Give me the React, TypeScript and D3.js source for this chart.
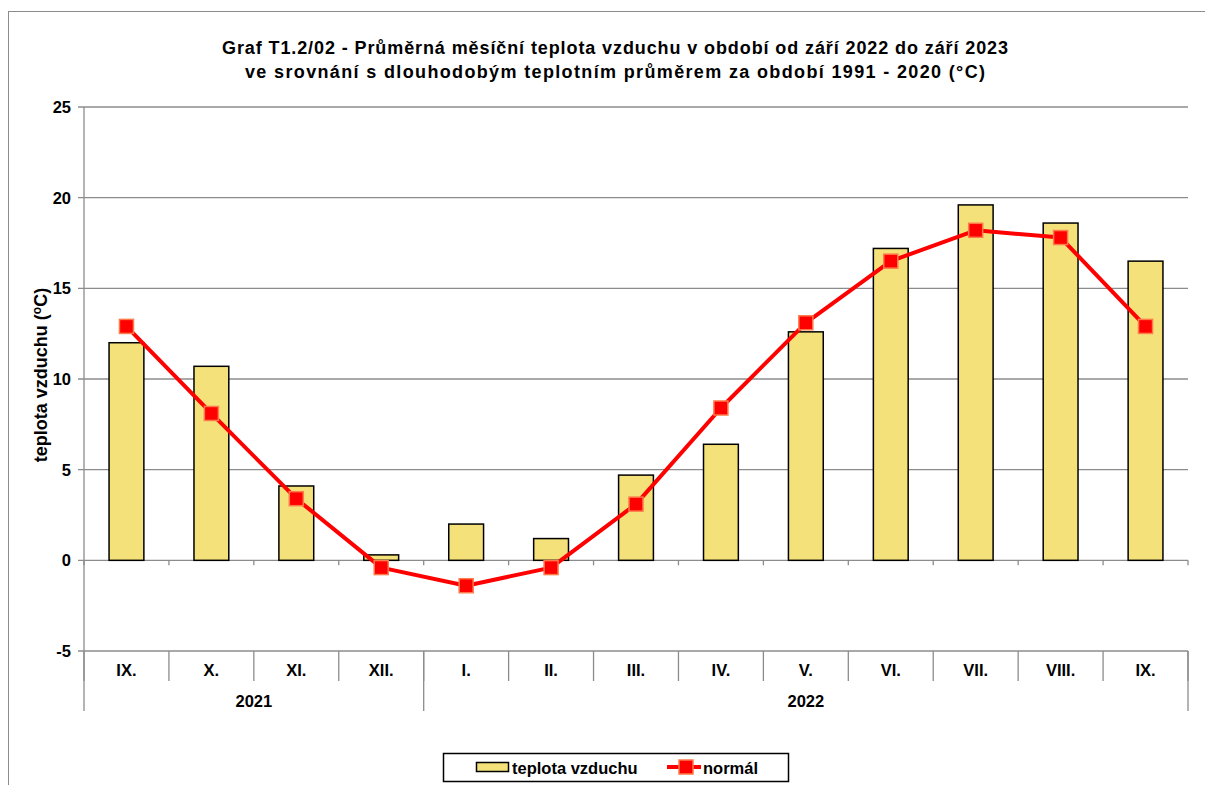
import React from "react";
import * as d3 from "d3";

const months = ["IX.", "X.", "XI.", "XII.", "I.", "II.", "III.", "IV.", "V.", "VI.", "VII.", "VIII.", "IX."];
const years = [
  { label: "2021", from: 0, to: 4 },
  { label: "2022", from: 4, to: 13 },
];
const teplota = [12.0, 10.7, 4.1, 0.3, 2.0, 1.2, 4.7, 6.4, 12.6, 17.2, 19.6, 18.6, 16.5];
const normal = [12.9, 8.1, 3.4, -0.4, -1.4, -0.4, 3.1, 8.4, 13.1, 16.5, 18.2, 17.8, 12.9];
const yTicks = [-5, 0, 5, 10, 15, 20, 25];

const W = 1205;
const H = 785;
const font = "'Liberation Sans', Arial, sans-serif";

const App: React.FC = () => {
  const x = d3.scaleBand<number>().domain(d3.range(months.length)).range([84, 1188]).paddingInner(0).paddingOuter(0);
  const y = d3.scaleLinear().domain([-5, 25]).range([651, 107]);
  const bw = x.bandwidth();
  const barW = bw * 0.41;
  const cx = (i: number) => (x(i) ?? 0) + bw / 2;

  const line = d3
    .line<number>()
    .x((_, i) => cx(i))
    .y((d) => y(d));

  const catTop = y(-5);
  const boundaries = d3.range(months.length + 1).map((i) => 84 + i * bw);

  return (
    <div style={{ position: "fixed", left: 0, top: 0 }}>
      <svg width={W} height={H} style={{ display: "block", background: "#fff" }}>
        {/* outer chart border */}
        <rect x={8.5} y={11.5} width={W + 10} height={H + 10} fill="none" stroke="#8c8c8c" strokeWidth={1} />

        {/* title */}
        <text x={615} y={54} textAnchor="middle" fontFamily={font} fontWeight="bold" fontSize={18} fill="#000"
          textLength={786} lengthAdjust="spacing">
          Graf T1.2/02 - Průměrná měsíční teplota vzduchu v období od září 2022 do září 2023
        </text>
        <text x={615} y={78} textAnchor="middle" fontFamily={font} fontWeight="bold" fontSize={18} fill="#000"
          textLength={740} lengthAdjust="spacing">
          ve srovnání s dlouhodobým teplotním průměrem za období 1991 - 2020 (°C)
        </text>

        {/* grid */}
        {yTicks.map((t) => (
          <g key={t}>
            <line x1={78} x2={1188} y1={y(t)} y2={y(t)} stroke="#8c8c8c" strokeWidth={1.3} />
            <text x={71} y={y(t) + 6} textAnchor="end" fontFamily={font} fontWeight="bold" fontSize={16.5} fill="#000">
              {t}
            </text>
          </g>
        ))}
        <line x1={84} x2={84} y1={y(25)} y2={711} stroke="#8c8c8c" strokeWidth={1.3} />

        {/* ticks on zero line */}
        {boundaries.map((bx, i) => (
          <line key={"z" + i} x1={bx} x2={bx} y1={y(0)} y2={y(0) + 5} stroke="#8c8c8c" strokeWidth={1.3} />
        ))}

        {/* category axis */}
        {boundaries.map((bx, i) => (
          <line key={"c" + i} x1={bx} x2={bx} y1={catTop} y2={catTop + 30} stroke="#8c8c8c" strokeWidth={1.3} />
        ))}
        {years.map((yr) => (
          <line key={"y" + yr.label} x1={84 + yr.to * bw} x2={84 + yr.to * bw} y1={catTop} y2={711} stroke="#8c8c8c" strokeWidth={1.3} />
        ))}
        {months.map((m, i) => (
          <text key={"m" + i} x={cx(i)} y={catTop + 25} textAnchor="middle" fontFamily={font} fontWeight="bold" fontSize={16.5} fill="#000">
            {m}
          </text>
        ))}
        {years.map((yr) => (
          <text
            key={"yl" + yr.label}
            x={84 + ((yr.from + yr.to) / 2) * bw}
            y={catTop + 56}
            textAnchor="middle"
            fontFamily={font}
            fontWeight="bold"
            fontSize={16.5}
            fill="#000"
          >
            {yr.label}
          </text>
        ))}

        {/* y axis title */}
        <text
          transform={`translate(47,${375}) rotate(-90)`}
          textAnchor="middle"
          fontFamily={font}
          fontWeight="bold"
          fontSize={18}
          fill="#000"
        >
          teplota vzduchu (
          <tspan dy={-6} fontSize={12}>o</tspan>
          <tspan dy={6}>C)</tspan>
        </text>

        {/* bars */}
        {teplota.map((v, i) => (
          <rect
            key={"b" + i}
            x={cx(i) - barW / 2}
            y={y(Math.max(v, 0))}
            width={barW}
            height={Math.abs(y(v) - y(0))}
            fill="#f5e17a"
            stroke="#000"
            strokeWidth={1.5}
          />
        ))}

        {/* normal line */}
        <path d={line(normal) ?? ""} fill="none" stroke="#ff0000" strokeWidth={4} strokeLinejoin="round" />
        {normal.map((v, i) => (
          <rect key={"n" + i} x={cx(i) - 7} y={y(v) - 7} width={14} height={14} fill="#ff0000" stroke="#ff7a4a" strokeWidth={1.5} />
        ))}

        {/* legend */}
        <rect x={443.5} y={753.5} width={345} height={28} fill="#fff" stroke="#000" strokeWidth={1.5} />
        <rect x={476.5} y={762.5} width={32} height={9} fill="#f5e17a" stroke="#000" strokeWidth={1.5} />
        <text x={512} y={774} fontFamily={font} fontWeight="bold" fontSize={16.5} fill="#000">
          teplota vzduchu
        </text>
        <line x1={667} x2={701} y1={767} y2={767} stroke="#ff0000" strokeWidth={4} />
        <rect x={679} y={760} width={14} height={14} fill="#ff0000" stroke="#ff7a4a" strokeWidth={1.5} />
        <text x={703} y={774} fontFamily={font} fontWeight="bold" fontSize={16.5} fill="#000">
          normál
        </text>
      </svg>
    </div>
  );
};

export default App;
